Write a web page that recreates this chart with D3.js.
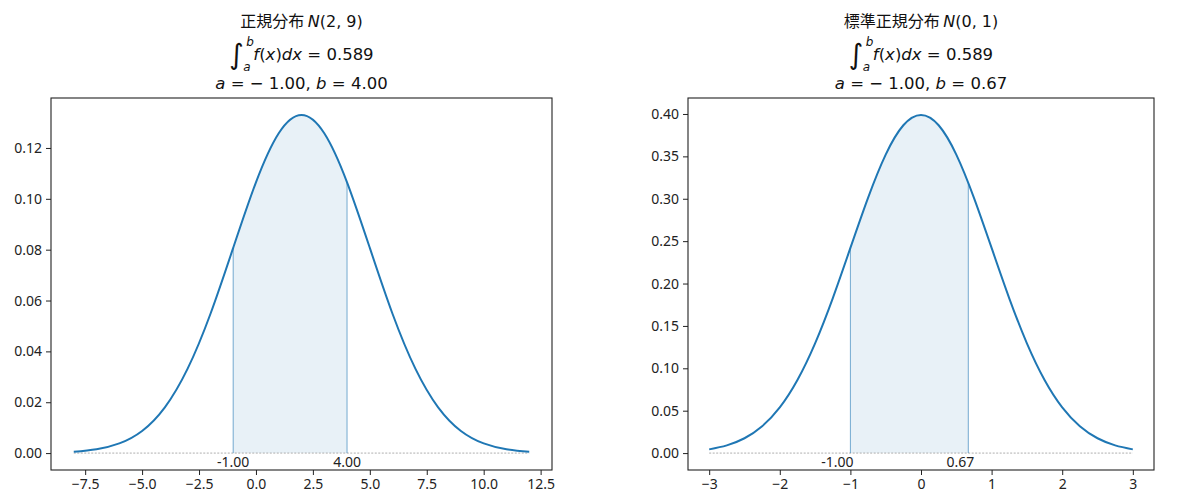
<!DOCTYPE html>
<html>
<head>
<meta charset="utf-8">
<script src="https://cdn.jsdelivr.net/npm/d3@7"></script>
<style>
  body { margin: 0; background: #fff; }
  text { white-space: pre; }
</style>
</head>
<body>
<svg id="chart" width="1200" height="504"></svg>
<script>
"use strict";

// density values
const leftX = [-8, -7, -6, -5, -4, -3, -2, -1, 0, 1, 2, 3, 4, 5, 6, 7, 8, 9, 10, 11, 12];
const leftY = [0.0005, 0.0015, 0.0038, 0.0087, 0.0180, 0.0332, 0.0547, 0.0807, 0.1065, 0.1258,
  0.1330, 0.1258, 0.1065, 0.0807, 0.0547, 0.0332, 0.0180, 0.0087, 0.0038, 0.0015, 0.0005];

const rightX = [-3, -2.75, -2.5, -2.25, -2, -1.75, -1.5, -1.25, -1, -0.75, -0.5, -0.25, 0,
  0.25, 0.5, 0.75, 1, 1.25, 1.5, 1.75, 2, 2.25, 2.5, 2.75, 3];
const rightY = [0.0044, 0.0091, 0.0175, 0.0317, 0.0540, 0.0863, 0.1295, 0.1826, 0.2420, 0.3011,
  0.3521, 0.3867, 0.3989, 0.3867, 0.3521, 0.3011, 0.2420, 0.1826, 0.1295, 0.0863, 0.0540,
  0.0317, 0.0175, 0.0091, 0.0044];

// titles
const titleNames = ['正規分布', '標準正規分布'];
const titleParams = ['(2, 9)', '(0, 1)'];
const integralValues = ['0.589', '0.589'];

// integration bounds and density at the bounds
const boundA = [-1.00, -1.00];
const boundB = [4.00, 0.67];
const densA = [0.0807, 0.2420];
const densB = [0.1065, 0.3187];

// ticks
const leftTicksX = [-7.5, -5.0, -2.5, 0.0, 2.5, 5.0, 7.5, 10.0, 12.5];
const leftTicksY = [0.00, 0.02, 0.04, 0.06, 0.08, 0.10, 0.12];
const rightTicksX = [-3, -2, -1, 0, 1, 2, 3];
const rightTicksY = [0.00, 0.05, 0.10, 0.15, 0.20, 0.25, 0.30, 0.35, 0.40];

const svg = d3.select('#chart');
const blue = '#1f77b4';
const tickFont = "Noto Sans, sans-serif";
const mathFont = "DejaVu Sans, sans-serif";

const panel = (i, p) => {
  const g = svg.append('g');
  const xs = i == 0 ? leftX : rightX;
  const ys = i == 0 ? leftY : rightY;
  const pts = xs.map((x, k) => ({ x: x, y: ys[k] }));

  // matplotlib style 5% margins
  const xmin = d3.min(xs), xmax = d3.max(xs);
  const xpad = (xmax - xmin) * 0.05;
  const ymax = d3.max(ys), ypad = ymax * 0.05;

  const x = d3.scaleLinear().domain([xmin - xpad, xmax + xpad]).range([p.left, p.right]);
  const y = d3.scaleLinear().domain([-ypad, ymax + ypad]).range([p.bottom, p.top]);

  // shaded area between bounds
  const clipId = 'clip' + i;
  g.append('clipPath').attr('id', clipId)
    .append('rect')
    .attr('x', x(boundA[i]))
    .attr('y', p.top)
    .attr('width', x(boundB[i]) - x(boundA[i]))
    .attr('height', p.bottom - p.top);

  g.append('path')
    .datum(pts)
    .attr('clip-path', 'url(#' + clipId + ')')
    .attr('fill', blue)
    .attr('fill-opacity', 0.1)
    .attr('d', d3.area().x(d => x(d.x)).y0(y(0)).y1(d => y(d.y)).curve(d3.curveNatural));

  // dotted zero line
  g.append('line')
    .attr('x1', x(xmin)).attr('x2', x(xmax))
    .attr('y1', y(0)).attr('y2', y(0))
    .attr('stroke', '#999')
    .attr('stroke-width', 0.8)
    .attr('stroke-dasharray', '2,1.5');

  // vertical bound lines
  [[boundA[i], densA[i]], [boundB[i], densB[i]]].forEach(d => {
    g.append('line')
      .attr('x1', x(d[0])).attr('x2', x(d[0]))
      .attr('y1', y(0)).attr('y2', y(d[1]))
      .attr('stroke', blue)
      .attr('stroke-opacity', 0.6)
      .attr('stroke-width', 1);
  });

  // curve
  g.append('path')
    .datum(pts)
    .attr('fill', 'none')
    .attr('stroke', blue)
    .attr('stroke-width', 2)
    .attr('d', d3.line().x(d => x(d.x)).y(d => y(d.y)).curve(d3.curveNatural));

  // bound labels
  const labelShift = i == 0 ? [0, 0] : [-13, -8];
  [boundA[i], boundB[i]].forEach((b, k) => {
    g.append('text')
      .attr('x', x(b) + labelShift[k])
      .attr('y', y(0) + 14)
      .attr('text-anchor', 'middle')
      .attr('font-family', tickFont)
      .attr('font-size', 14)
      .attr('fill', '#222')
      .text(b.toFixed(2));
  });

  // axes
  const fmtX = i == 0 ? d3.format('.1f') : d3.format('d');
  const xAxis = g.append('g')
    .attr('transform', 'translate(0,' + p.bottom + ')')
    .call(d3.axisBottom(x).tickValues(i == 0 ? leftTicksX : rightTicksX)
      .tickFormat(fmtX).tickSizeOuter(0).tickSize(5).tickPadding(4));
  const yAxis = g.append('g')
    .attr('transform', 'translate(' + p.left + ',0)')
    .call(d3.axisLeft(y).tickValues(i == 0 ? leftTicksY : rightTicksY)
      .tickFormat(d3.format('.2f')).tickSizeOuter(0).tickSize(5).tickPadding(4));
  [xAxis, yAxis].forEach(a => {
    a.attr('font-family', null).attr('font-size', null);
    a.select('.domain').remove();
    a.selectAll('line').attr('stroke', '#222').attr('stroke-width', 1);
    a.selectAll('text').attr('font-family', tickFont).attr('font-size', 14).attr('fill', '#222');
  });

  // frame
  g.append('rect')
    .attr('x', p.left).attr('y', p.top)
    .attr('width', p.right - p.left).attr('height', p.bottom - p.top)
    .attr('fill', 'none')
    .attr('stroke', '#222')
    .attr('stroke-width', 1.1);

  // title, three lines
  const cx = (p.left + p.right) / 2;

  const t1 = g.append('text')
    .attr('x', cx).attr('y', 27)
    .attr('text-anchor', 'middle')
    .attr('font-size', 16)
    .attr('fill', '#111');
  t1.append('tspan').attr('font-family', "Noto Sans CJK JP, sans-serif").text(titleNames[i] + ' ');
  t1.append('tspan').attr('font-family', mathFont).attr('font-style', 'italic').text('N');
  t1.append('tspan').attr('font-family', mathFont).text(titleParams[i]);

  // integral line, built then centered
  const t2 = g.append('g');
  t2.append('text')
    .attr('x', 0).attr('y', 64)
    .attr('font-family', mathFont)
    .attr('font-size', 28)
    .attr('fill', '#111')
    .text('\u222B');
  t2.append('text')
    .attr('x', 17).attr('y', 46)
    .attr('font-family', mathFont).attr('font-style', 'italic')
    .attr('font-size', 12).attr('fill', '#111')
    .text('b');
  t2.append('text')
    .attr('x', 14).attr('y', 71)
    .attr('font-family', mathFont).attr('font-style', 'italic')
    .attr('font-size', 12).attr('fill', '#111')
    .text('a');
  const t2m = t2.append('text')
    .attr('x', 24).attr('y', 60)
    .attr('font-family', mathFont)
    .attr('font-size', 16.5)
    .attr('fill', '#111');
  t2m.append('tspan').attr('font-style', 'italic').text('f');
  t2m.append('tspan').text('(');
  t2m.append('tspan').attr('font-style', 'italic').text('x');
  t2m.append('tspan').text(')');
  t2m.append('tspan').attr('font-style', 'italic').text('dx');
  t2m.append('tspan').text(' = ' + integralValues[i]);
  const bb = t2.node().getBBox();
  t2.attr('transform', 'translate(' + (cx - bb.x - bb.width / 2) + ',0)');

  const t3 = g.append('text')
    .attr('x', cx).attr('y', 89)
    .attr('text-anchor', 'middle')
    .attr('font-family', mathFont)
    .attr('font-size', 16.5)
    .attr('fill', '#111');
  t3.append('tspan').attr('font-style', 'italic').text('a');
  t3.append('tspan').text(' = \u2212 ' + boundA[i].toFixed(2).replace('-', '') + ', ');
  t3.append('tspan').attr('font-style', 'italic').text('b');
  t3.append('tspan').text(' = ' + boundB[i].toFixed(2));
};

panel(0, { left: 51, right: 552, top: 98, bottom: 470 });
panel(1, { left: 688, right: 1154, top: 98, bottom: 470 });
</script>
</body>
</html>
